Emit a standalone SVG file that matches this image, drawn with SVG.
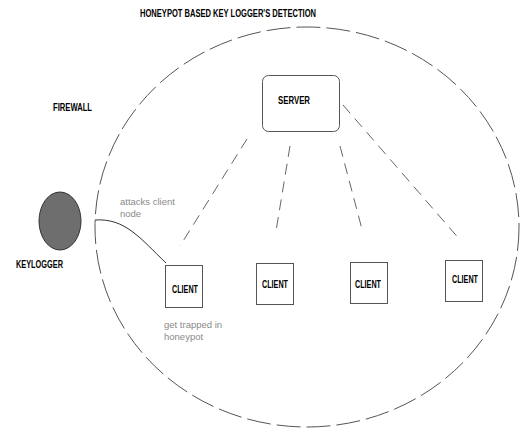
<svg xmlns="http://www.w3.org/2000/svg" width="523" height="429" viewBox="0 0 523 429">
<style>
.lbl{font-family:"Liberation Sans",Arial,sans-serif;font-weight:bold;font-size:10px;fill:#000}
.note{font-family:"Liberation Sans",Arial,sans-serif;font-size:9.5px;fill:#8a8a8a}
.box{fill:#fff;stroke:#555;stroke-width:1}
.dash{fill:none;stroke:#666;stroke-width:1;stroke-dasharray:11 7}
</style>
<rect width="523" height="429" fill="#fff"/>
<text class="lbl" x="140" y="17" textLength="176" lengthAdjust="spacingAndGlyphs">HONEYPOT BASED KEY LOGGER'S DETECTION</text>
<g id="firewall">
<ellipse cx="307" cy="227" rx="212" ry="200" fill="none" stroke="#555" stroke-width="1" stroke-dasharray="24 6"/>
<text class="lbl" x="53" y="111" textLength="39" lengthAdjust="spacingAndGlyphs">FIREWALL</text>
</g>
<g id="keylogger">
<ellipse cx="60" cy="221" rx="21" ry="29" fill="#6e6e6e" stroke="#333" stroke-width="1"/>
<text class="lbl" x="16" y="268" textLength="47" lengthAdjust="spacingAndGlyphs">KEYLOGGER</text>
</g>
<g id="server">
<rect class="box" x="262.5" y="75.5" width="77" height="56" rx="6"/>
<text class="lbl" x="278" y="104" textLength="32" lengthAdjust="spacingAndGlyphs">SERVER</text>
</g>
<g id="client1">
<rect class="box" x="165.5" y="265.5" width="37" height="42"/>
<text class="lbl" x="172" y="293" textLength="26" lengthAdjust="spacingAndGlyphs">CLIENT</text>
</g>
<g id="client2">
<rect class="box" x="256.5" y="263.5" width="37" height="41"/>
<text class="lbl" x="262" y="288" textLength="26" lengthAdjust="spacingAndGlyphs">CLIENT</text>
</g>
<g id="client3">
<rect class="box" x="350.5" y="262.5" width="37" height="41"/>
<text class="lbl" x="355" y="288" textLength="26" lengthAdjust="spacingAndGlyphs">CLIENT</text>
</g>
<g id="client4">
<rect class="box" x="445.5" y="260.5" width="37" height="41"/>
<text class="lbl" x="452" y="283" textLength="26" lengthAdjust="spacingAndGlyphs">CLIENT</text>
</g>
<g id="connectors">
<line class="dash" x1="247" y1="139" x2="180" y2="246"/>
<line class="dash" x1="290" y1="146" x2="275.4" y2="234.8"/>
<line class="dash" x1="340" y1="146" x2="363" y2="233"/>
<line class="dash" x1="343" y1="105" x2="461" y2="241"/>
<path d="M95,220 C125,218 140,238 166,263" fill="none" stroke="#333" stroke-width="1"/>
<text class="note" x="120" y="205">attacks client</text>
<text class="note" x="120" y="217">node</text>
<text class="note" x="164" y="328">get trapped in</text>
<text class="note" x="164" y="340">honeypot</text>
</g>
</svg>
